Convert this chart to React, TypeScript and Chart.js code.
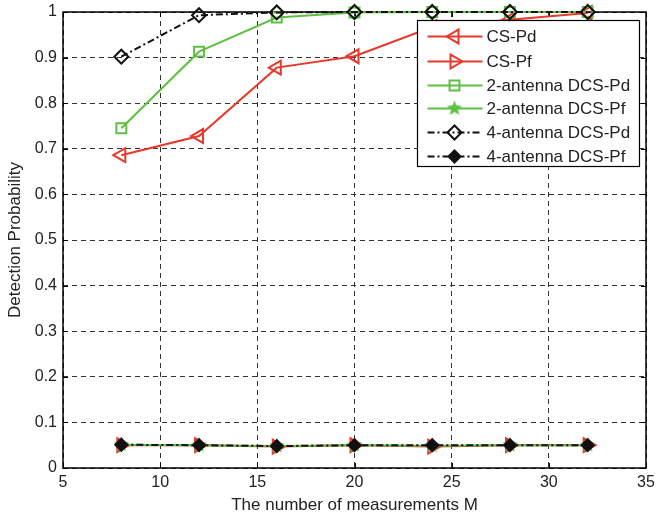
import React, { useEffect, useRef } from 'react';
import { Chart, registerables } from 'chart.js';
import { drawPoint } from 'chart.js/helpers';

Chart.register(...registerables);

const measurements = [8, 12, 16, 20, 24, 28, 32];
const csPd = [0.686, 0.728, 0.878, 0.903, 0.967, 0.983, 0.998];
const csPf = [0.05, 0.05, 0.047, 0.05, 0.047, 0.05, 0.05];
const dcs2Pd = [0.745, 0.913, 0.988, 0.999, 1, 1, 1];
const dcs2Pf = [0.051, 0.05, 0.048, 0.05, 0.049, 0.05, 0.05];
const dcs4Pd = [0.902, 0.993, 0.999, 1, 1, 1, 1];
const dcs4Pf = [0.051, 0.05, 0.048, 0.05, 0.05, 0.05, 0.05];

const seriesNames = [
  'CS-Pd',
  'CS-Pf',
  '2-antenna DCS-Pd',
  '2-antenna DCS-Pf',
  '4-antenna DCS-Pd',
  '4-antenna DCS-Pf',
];

const xTicks = [5, 10, 15, 20, 25, 30, 35];
const xTickLabels = ['5', '10', '15', '20', '25', '30', '35'];
const yTicks = [0, 0.1, 0.2, 0.3, 0.4, 0.5, 0.6, 0.7, 0.8, 0.9, 1];
const yTickLabels = ['0', '0.1', '0.2', '0.3', '0.4', '0.5', '0.6', '0.7', '0.8', '0.9', '1'];

const RED = '#e8382b';
const GREEN = '#5cc143';
const BLACK = '#111111';
const FONT = "'Liberation Sans', Arial, Helvetica, sans-serif";

function makeStar(r: number, color: string): HTMLCanvasElement {
  const c = document.createElement('canvas');
  const s = Math.ceil(r * 2 + 2);
  c.width = s;
  c.height = s;
  const ctx = c.getContext('2d')!;
  ctx.beginPath();
  for (let i = 0; i < 10; i++) {
    const a = -Math.PI / 2 + (i * Math.PI) / 5;
    const rr = i % 2 === 0 ? r : r * 0.45;
    ctx.lineTo(s / 2 + rr * Math.cos(a), s / 2 + rr * Math.sin(a));
  }
  ctx.closePath();
  ctx.fillStyle = color;
  ctx.fill();
  return c;
}

const framePlugin = {
  id: 'frame',
  beforeDatasetsDraw(chart: any) {
    const { ctx, chartArea, scales } = chart;
    const { left, right, top, bottom } = chartArea;
    ctx.save();
    ctx.strokeStyle = '#000';
    ctx.lineWidth = 1;
    ctx.setLineDash([]);
    const tl = 5;
    ctx.beginPath();
    xTicks.forEach((v) => {
      const x = Math.round(scales.x.getPixelForValue(v)) + 0.5;
      ctx.moveTo(x, bottom);
      ctx.lineTo(x, bottom - tl);
      ctx.moveTo(x, top);
      ctx.lineTo(x, top + tl);
    });
    yTicks.forEach((v) => {
      const y = Math.round(scales.y.getPixelForValue(v)) + 0.5;
      ctx.moveTo(left, y);
      ctx.lineTo(left + tl, y);
      ctx.moveTo(right, y);
      ctx.lineTo(right - tl, y);
    });
    ctx.stroke();
    ctx.lineWidth = 1.5;
    ctx.strokeRect(left, top, right - left, bottom - top);
    ctx.restore();
  },
};

const legendPlugin = {
  id: 'boxLegend',
  afterDraw(chart: any) {
    const { ctx, chartArea } = chart;
    const w = 222;
    const h = 146;
    const x0 = Math.round(chartArea.right - 229) + 0.5;
    const y0 = Math.round(chartArea.top + 8) + 0.5;
    ctx.save();
    ctx.fillStyle = '#fff';
    ctx.fillRect(x0, y0, w, h);
    ctx.strokeStyle = '#000';
    ctx.lineWidth = 1.2;
    ctx.strokeRect(x0, y0, w, h);
    const rowsY = [16, 41, 65, 88, 112, 136];
    chart.data.datasets.forEach((ds: any, i: number) => {
      const y = y0 + rowsY[i];
      ctx.beginPath();
      ctx.setLineDash(ds.borderDash || []);
      ctx.strokeStyle = ds.borderColor;
      ctx.lineWidth = ds.borderWidth;
      ctx.moveTo(x0 + 10, y);
      ctx.lineTo(x0 + 65, y);
      ctx.stroke();
      ctx.setLineDash([]);
      ctx.fillStyle = ds.pointBackgroundColor;
      ctx.strokeStyle = ds.pointBorderColor;
      ctx.lineWidth = ds.pointBorderWidth;
      drawPoint(
        ctx,
        {
          pointStyle: ds.pointStyle,
          rotation: ds.pointRotation || 0,
          radius: ds.pointRadius,
          borderWidth: ds.pointBorderWidth,
        } as any,
        x0 + 37,
        y
      );
      ctx.fillStyle = '#222';
      ctx.font = `17px ${FONT}`;
      ctx.textBaseline = 'middle';
      ctx.textAlign = 'left';
      ctx.fillText(seriesNames[i], x0 + 69, y + 1);
    });
    ctx.restore();
  },
};

export default function App() {
  const ref = useRef<HTMLCanvasElement>(null);

  useEffect(() => {
    document.body.style.margin = '0';
    const star = makeStar(8, GREEN);
    const toXY = (vals: number[]) => vals.map((v, i) => ({ x: measurements[i], y: v }));
    const values = [csPd, csPf, dcs2Pd, dcs2Pf, dcs4Pd, dcs4Pf];
    const styles: any[] = [
      { color: RED, pointStyle: 'triangle', rot: -90, r: 8, bg: 'rgba(0,0,0,0)', dash: [] },
      { color: RED, pointStyle: 'triangle', rot: 90, r: 8, bg: 'rgba(0,0,0,0)', dash: [] },
      { color: GREEN, pointStyle: 'rect', rot: 0, r: 7, bg: 'rgba(0,0,0,0)', dash: [] },
      { color: GREEN, pointStyle: star, rot: 0, r: 8, bg: GREEN, dash: [] },
      { color: BLACK, pointStyle: 'rectRot', rot: 0, r: 7, bg: 'rgba(0,0,0,0)', dash: [7, 3, 2, 3] },
      { color: BLACK, pointStyle: 'rectRot', rot: 0, r: 6, bg: BLACK, dash: [7, 3, 2, 3] },
    ];
    const datasets = values.map((vals, i) => {
      const s = styles[i];
      return {
        label: seriesNames[i],
        data: toXY(vals),
        borderColor: s.color,
        backgroundColor: s.color,
        borderWidth: 2,
        borderDash: s.dash,
        pointStyle: s.pointStyle,
        pointRotation: s.rot,
        pointRadius: s.r,
        pointHoverRadius: s.r,
        pointBorderWidth: 2,
        pointBorderColor: s.color,
        pointBackgroundColor: s.bg,
        tension: 0,
        clip: false as any,
        order: 5 - i,
      };
    });

    const chart = new Chart(ref.current!, {
      type: 'line',
      data: { datasets },
      options: {
        responsive: false,
        animation: false,
        events: [],
        layout: { padding: { top: 12, right: 10, left: 0, bottom: 0 } },
        plugins: {
          legend: { display: false },
          tooltip: { enabled: false },
        },
        scales: {
          x: {
            type: 'linear',
            min: 5,
            max: 35,
            afterBuildTicks: (s: any) => {
              s.ticks = xTicks.map((v) => ({ value: v }));
            },
            afterFit: (s: any) => {
              s.height = 51;
              s.paddingLeft = 0;
              s.paddingRight = 0;
            },
            ticks: {
              callback: (v: any) => xTickLabels[xTicks.indexOf(Number(v))] ?? '',
              font: { family: FONT, size: 16 },
              color: '#222',
              padding: 5,
              maxRotation: 0,
            },
            grid: { color: '#333', lineWidth: 1, drawTicks: false },
            border: { display: false, dash: [5, 4] },
            title: {
              display: true,
              text: 'The number of measurements M',
              font: { family: FONT, size: 17 },
              color: '#222',
              padding: { top: 0, bottom: 3 },
            },
          },
          y: {
            type: 'linear',
            min: 0,
            max: 1,
            afterBuildTicks: (s: any) => {
              s.ticks = yTicks.map((v) => ({ value: v }));
            },
            afterFit: (s: any) => {
              s.width = 63;
              s.paddingTop = 0;
              s.paddingBottom = 0;
            },
            ticks: {
              callback: (v: any) => {
                const idx = yTicks.findIndex((t) => Math.abs(t - Number(v)) < 1e-9);
                return idx >= 0 ? yTickLabels[idx] : '';
              },
              font: { family: FONT, size: 16 },
              color: '#222',
              padding: 6,
            },
            grid: { color: '#333', lineWidth: 1, drawTicks: false },
            border: { display: false, dash: [5, 4] },
            title: {
              display: true,
              text: 'Detection Probability',
              font: { family: FONT, size: 17 },
              color: '#222',
              padding: { top: 5, bottom: 0 },
            },
          },
        },
      },
      plugins: [framePlugin, legendPlugin],
    });
    return () => chart.destroy();
  }, []);

  return (
    <div style={{ position: 'absolute', left: 0, top: 0, width: 656, height: 519 }}>
      <canvas ref={ref} width={656} height={519} />
    </div>
  );
}
